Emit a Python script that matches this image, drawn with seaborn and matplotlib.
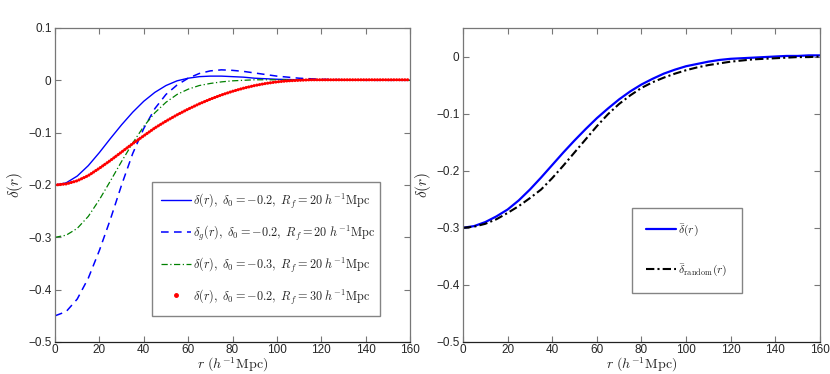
import numpy as np
import matplotlib
matplotlib.use('Agg')
import matplotlib.pyplot as plt
from matplotlib.lines import Line2D
import seaborn as sns

sns.set_style('ticks')
plt.rcParams['font.family'] = ['Liberation Sans', 'DejaVu Sans']
plt.rcParams['mathtext.fontset'] = 'cm'

r = [0, 5, 10, 15, 20, 25, 30, 35, 40, 45, 50, 55, 60, 65, 70, 75, 80,
     85, 90, 95, 100, 105, 110, 115, 120, 125, 130, 135, 140, 145, 150, 155, 160]

# left panel
delta_02_rf20 = [-0.200, -0.196, -0.183, -0.163, -0.138, -0.111, -0.085, -0.061, -0.040,
                 -0.023, -0.010, -0.001, 0.004, 0.007, 0.008, 0.008, 0.007, 0.006, 0.004,
                 0.003, 0.002, 0.0015, 0.001, 0.001, 0.0005, 0.0005, 0.0, 0.0, 0.0, 0.0,
                 0.0, 0.0, 0.0]
delta_g_02_rf20 = [-0.450, -0.442, -0.418, -0.378, -0.325, -0.265, -0.200, -0.140, -0.092,
                   -0.054, -0.027, -0.009, 0.004, 0.013, 0.018, 0.020, 0.019, 0.017, 0.014,
                   0.011, 0.008, 0.006, 0.004, 0.003, 0.002, 0.0015, 0.001, 0.0005, 0.0,
                   0.0, 0.0, 0.0, 0.0]
delta_03_rf20 = [-0.300, -0.296, -0.283, -0.260, -0.228, -0.192, -0.155, -0.120, -0.088,
                 -0.062, -0.042, -0.027, -0.017, -0.010, -0.006, -0.003, -0.001, 0.0,
                 0.001, 0.001, 0.001, 0.001, 0.001, 0.001, 0.0005, 0.0005, 0.0, 0.0, 0.0,
                 0.0, 0.0, 0.0, 0.0]
delta_02_rf30 = [-0.200, -0.198, -0.192, -0.182, -0.168, -0.153, -0.137, -0.121, -0.106,
                 -0.091, -0.078, -0.066, -0.055, -0.045, -0.036, -0.028, -0.021, -0.015,
                 -0.010, -0.006, -0.003, -0.001, 0.0, 0.001, 0.001, 0.001, 0.001, 0.001,
                 0.001, 0.001, 0.001, 0.001, 0.001]

# right panel
delta_bar = [-0.300, -0.297, -0.290, -0.280, -0.268, -0.252, -0.233, -0.212, -0.190,
             -0.168, -0.147, -0.127, -0.108, -0.091, -0.075, -0.061, -0.049, -0.039,
             -0.030, -0.023, -0.017, -0.013, -0.009, -0.006, -0.004, -0.003, -0.002,
             -0.001, 0.0, 0.001, 0.001, 0.002, 0.002]
delta_bar_random = [-0.300, -0.298, -0.293, -0.285, -0.274, -0.262, -0.248, -0.233, -0.213,
                    -0.191, -0.168, -0.145, -0.122, -0.101, -0.083, -0.068, -0.055, -0.045,
                    -0.037, -0.030, -0.024, -0.019, -0.015, -0.012, -0.009, -0.007, -0.005,
                    -0.004, -0.003, -0.002, -0.001, -0.001, 0.0]

x_ticks = [0, 20, 40, 60, 80, 100, 120, 140, 160]
left_yticks = [0.1, 0, -0.1, -0.2, -0.3, -0.4, -0.5]
left_ylabels = ['0.1', '0', '\u22120.1', '\u22120.2', '\u22120.3', '\u22120.4', '\u22120.5']
right_yticks = [0, -0.1, -0.2, -0.3, -0.4, -0.5]
right_ylabels = ['0', '\u22120.1', '\u22120.2', '\u22120.3', '\u22120.4', '\u22120.5']

leg_left = [r'$\delta(r),\ \delta_0=-0.2,\ R_f=20\ h^{-1}\mathrm{Mpc}$',
            r'$\delta_g(r),\ \delta_0=-0.2,\ R_f=20\ h^{-1}\mathrm{Mpc}$',
            r'$\delta(r),\ \delta_0=-0.3,\ R_f=20\ h^{-1}\mathrm{Mpc}$',
            r'$\delta(r),\ \delta_0=-0.2,\ R_f=30\ h^{-1}\mathrm{Mpc}$']
leg_right = [r'$\bar{\delta}(r)$', r'$\bar{\delta}_{\mathrm{random}}(r)$']

fig = plt.figure(figsize=(8.3, 3.74), dpi=100)
ax1 = fig.add_axes([0.0663, 0.0856, 0.4277, 0.8396])
ax2 = fig.add_axes([0.5578, 0.0856, 0.4301, 0.8396])

# ---- left panel ----
sns.lineplot(x=r, y=delta_02_rf20, ax=ax1, color='#0000ff', lw=1.0, errorbar=None)
sns.lineplot(x=r, y=delta_g_02_rf20, ax=ax1, color='#0000ff', lw=1.1,
             linestyle=(0, (5, 3.5)), errorbar=None)
sns.lineplot(x=r, y=delta_03_rf20, ax=ax1, color='#008000', lw=0.9,
             linestyle=(0, (5, 2, 1, 2)), errorbar=None)
# dense red dots (dotted line with round caps)
sns.lineplot(x=r, y=delta_02_rf30, ax=ax1, color='#ff0000', lw=2.3,
             linestyle=(0, (0.01, 0.85)), dash_capstyle='round', errorbar=None)

handles_left = [Line2D([], [], color='#0000ff', lw=1.0),
                Line2D([], [], color='#0000ff', lw=1.1, ls=(0, (5, 3.5))),
                Line2D([], [], color='#008000', lw=0.9, ls=(0, (5, 2, 1, 2))),
                Line2D([], [], color='#ff0000', ls='none', marker='.', markersize=5)]
leg1 = ax1.legend(handles_left, leg_left, loc='lower left',
                  bbox_to_anchor=(0.272, 0.084, 0.643, 0.381), mode='expand',
                  fontsize=8.8, frameon=True, fancybox=False, handlelength=2.4,
                  handletextpad=0.2, labelspacing=1.05, borderpad=0.8, borderaxespad=0)
leg1.get_frame().set_edgecolor('#666666')
leg1.get_frame().set_linewidth(1.0)

ax1.set_xlim(0, 160)
ax1.set_ylim(-0.5, 0.1)
ax1.set_yticks(left_yticks, left_ylabels)

# ---- right panel ----
sns.lineplot(x=r, y=delta_bar, ax=ax2, color='#0000ff', lw=1.6, errorbar=None)
sns.lineplot(x=r, y=delta_bar_random, ax=ax2, color='black', lw=1.5,
             linestyle=(0, (4, 1.5, 1, 1.5)), errorbar=None)

handles_right = [Line2D([], [], color='#0000ff', lw=1.6),
                 Line2D([], [], color='black', lw=1.5, ls=(0, (4, 1.5, 1, 1.5)))]
leg2 = ax2.legend(handles_right, leg_right, loc='lower left',
                  bbox_to_anchor=(0.474, 0.157, 0.309, 0.239), mode='expand',
                  fontsize=8.5, frameon=True, fancybox=False, handlelength=2.5,
                  handletextpad=0.2, labelspacing=2.0, borderpad=1.2, borderaxespad=0)
leg2.get_frame().set_edgecolor('#666666')
leg2.get_frame().set_linewidth(1.0)

ax2.set_xlim(0, 160)
ax2.set_ylim(-0.5, 0.05)
ax2.set_yticks(right_yticks, right_ylabels)

for ax in (ax1, ax2):
    ax.set_xticks(x_ticks)
    ax.tick_params(direction='in', top=True, right=True, length=4, width=0.8,
                   labelsize=8.5, color='#777777', pad=2.5)
    ax.tick_params(axis='x', pad=1.5)
    for s in ax.spines.values():
        s.set_color('#777777')
        s.set_linewidth(0.9)
    ax.spines['bottom'].set_color('#222222')
    ax.set_xlabel(r'$r\ (h^{-1}\mathrm{Mpc})$', fontsize=10, labelpad=-0.5)
    ax.set_ylabel(r'$\delta(r)$', fontsize=11, labelpad=2)
    ax.grid(False)

fig.savefig('out.png', dpi=100)
